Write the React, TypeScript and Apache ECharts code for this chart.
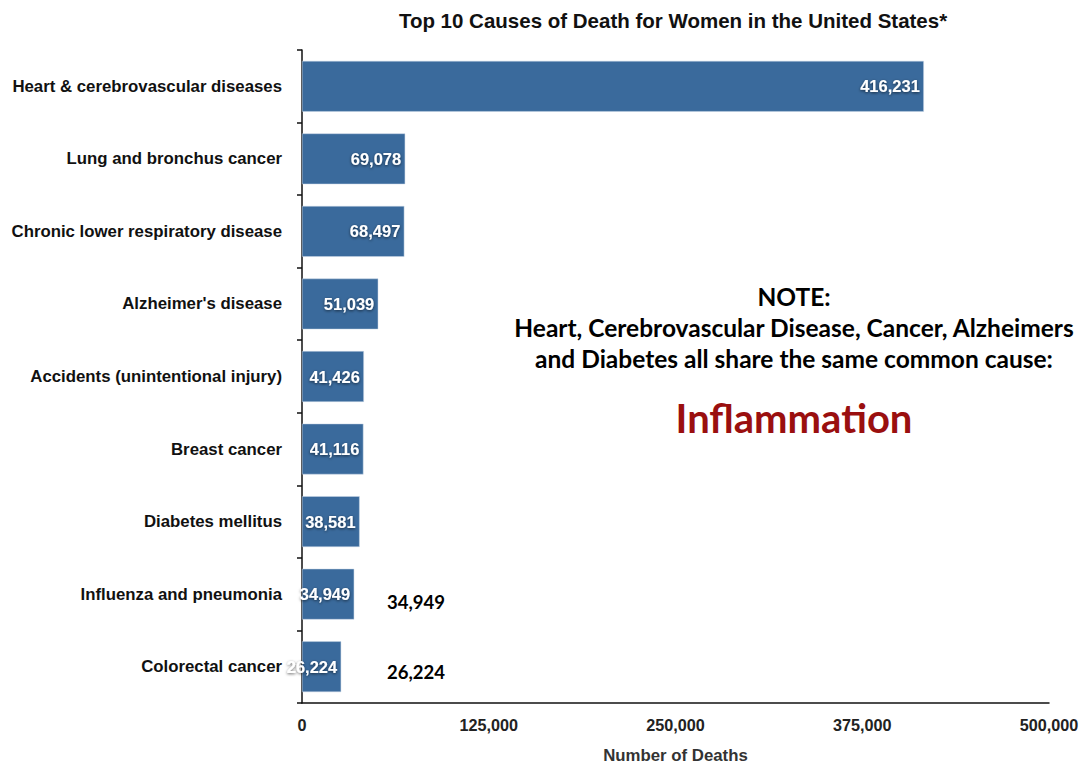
import React, { useEffect, useRef } from "react";
import * as echarts from "echarts";

const categories = [
  "Heart & cerebrovascular diseases",
  "Lung and bronchus cancer",
  "Chronic lower respiratory disease",
  "Alzheimer's disease",
  "Accidents (unintentional injury)",
  "Breast cancer",
  "Diabetes mellitus",
  "Influenza and pneumonia",
  "Colorectal cancer",
];
const deaths = [416231, 69078, 68497, 51039, 41426, 41116, 38581, 34949, 26224];
const xTicks = [0, 125000, 250000, 375000, 500000];
const extraLabels = ["34,949", "26,224"];
const noteLines = [
  "NOTE:",
  "Heart, Cerebrovascular Disease, Cancer, Alzheimers",
  "and Diabetes all share the same common cause:",
];
const highlight = "Inflammation";

const fmt = (v: number) => v.toLocaleString("en-US");

export default function App() {
  const ref = useRef<HTMLDivElement>(null);
  useEffect(() => {
    if (!ref.current) return;
    const chart = echarts.init(ref.current, undefined, { renderer: "svg" });
    const noteFont = "Lato, 'Open Sans', sans-serif";
    const sans = "'Liberation Sans', Arial, sans-serif";
    chart.setOption({
      animation: false,
      backgroundColor: "#ffffff",
      title: {
        text: "Top 10 Causes of Death for Women in the United States*",
        left: 668,
        top: 5,
        textAlign: "center",
        textStyle: {
          fontFamily: sans,
          fontWeight: "bold",
          fontSize: 20.5,
          color: "#111",
        },
      },
      grid: { left: 302, right: 36, top: 50, bottom: 61, containLabel: false },
      xAxis: {
        type: "value",
        min: xTicks[0],
        max: xTicks[xTicks.length - 1],
        interval: xTicks[1] - xTicks[0],
        name: "Number of Deaths",
        nameLocation: "middle",
        nameGap: 44,
        nameTextStyle: {
          fontFamily: sans,
          fontWeight: "bold",
          fontSize: 16.8,
          color: "#333",
        },
        axisLine: { show: true, lineStyle: { color: "#111", width: 1.5 } },
        axisTick: { show: false },
        splitLine: { show: false },
        axisLabel: {
          margin: 14,
          fontFamily: sans,
          fontWeight: "bold",
          fontSize: 16.2,
          color: "#222",
          formatter: (v: number) => fmt(v),
        },
      },
      yAxis: {
        type: "category",
        inverse: true,
        data: categories,
        axisLine: { show: true, lineStyle: { color: "#111", width: 1.5 } },
        axisTick: { show: true, length: 5, lineStyle: { color: "#111", width: 1.5 } },
        axisLabel: {
          margin: 20,
          fontFamily: sans,
          fontWeight: "bold",
          fontSize: 16.8,
          color: "#111",
        },
      },
      series: [
        {
          type: "bar",
          data: deaths,
          barCategoryGap: "30%",
          itemStyle: { color: "#3a6a9c", borderColor: "#c9d6e6", borderWidth: 0.5 },
          label: {
            show: true,
            position: "insideRight",
            distance: 4,
            formatter: (p: any) => fmt(p.value),
            fontFamily: sans,
            fontWeight: "bold",
            fontSize: 16.5,
            color: "#ffffff",
            textShadowColor: "rgba(0,0,0,0.6)",
            textShadowBlur: 3,
            textShadowOffsetX: 0,
            textShadowOffsetY: 1,
          },
        },
      ],
      graphic: [
        ...extraLabels.map((t, i) => ({
          type: "text",
          x: 416,
          y: 602 + i * 70,
          style: {
            text: t,
            font: `bold 18.5px ${noteFont}`,
            fill: "#000",
            textAlign: "center",
            textVerticalAlign: "middle",
          },
        })),
        ...noteLines.map((t, i) => ({
          type: "text",
          x: 794,
          y: 296 + i * 31,
          style: {
            text: t,
            font: `bold 24.5px ${noteFont}`,
            fill: "#000",
            textAlign: "center",
            textVerticalAlign: "middle",
          },
        })),
        {
          type: "text",
          x: 794,
          y: 418,
          style: {
            text: highlight,
            font: `bold 40px ${noteFont}`,
            fill: "#9a0f0f",
            textAlign: "center",
            textVerticalAlign: "middle",
          },
        },
      ],
    });
    return () => chart.dispose();
  }, []);
  return <div ref={ref} style={{ width: 1085, height: 769, position: "absolute", left: 0, top: 0 }} />;
}
